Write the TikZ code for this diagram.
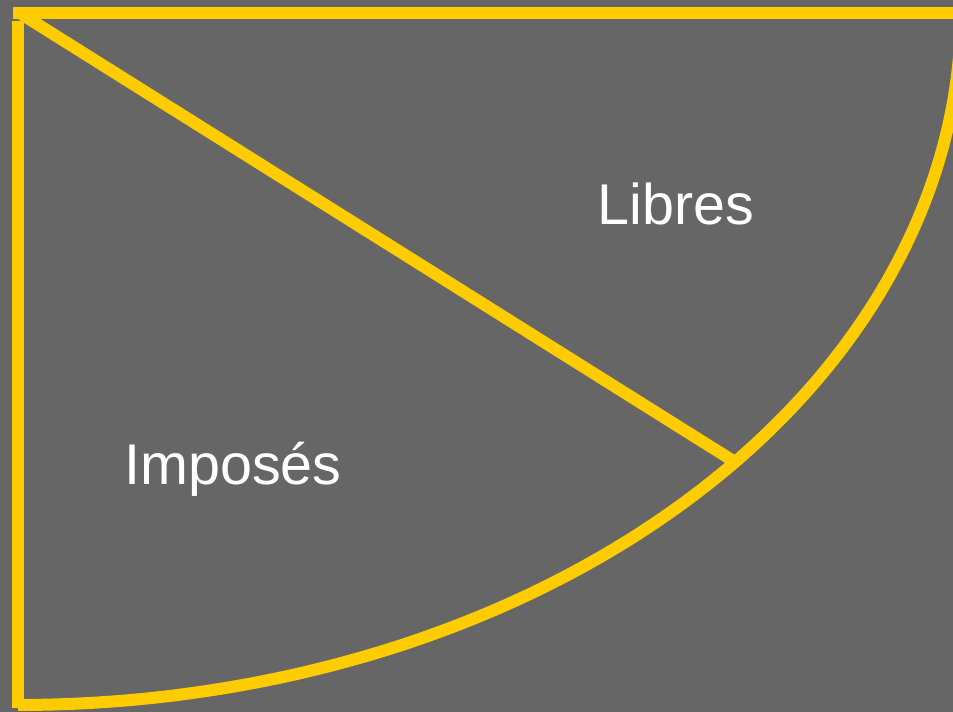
\documentclass[tikz,border=0pt]{standalone}
\usepackage{fontspec}
\setmainfont{Liberation Sans}
\definecolor{bg}{HTML}{666666}
\definecolor{gold}{HTML}{FFCC00}
\begin{document}
\begin{tikzpicture}[x=1pt,y=-1pt,
  edge/.style={draw=gold,line width=12pt},
  lbl/.style={text=white,font=\fontsize{57.5}{57.5}\selectfont,inner sep=0pt}]
\fill[bg] (0,0) rectangle (953,712);
\useasboundingbox (0,0) rectangle (953,712);
\coordinate (o) at (18,12);
\coordinate (tr) at (953,12.5);
\coordinate (tl) at (13,12.5);
\coordinate (lt) at (18,21);
\coordinate (lb) at (18,708);
\coordinate (m) at (735,462);
\draw[edge] (tl) -- (tr);
\draw[edge] (lt) -- (lb);
\begin{scope}
\clip (0,0) rectangle (953,712);
\draw[edge] plot[smooth,samples=80,domain=0:90,variable=\t] ({18+943*cos(\t)},{12+693*sin(\t)});
\end{scope}
\draw[edge] (o) -- (m);
\node[lbl] (libres) at (676,204) {Libres};
\node[lbl] (imposes) at (233,469) {Imposés};
\end{tikzpicture}
\end{document}
